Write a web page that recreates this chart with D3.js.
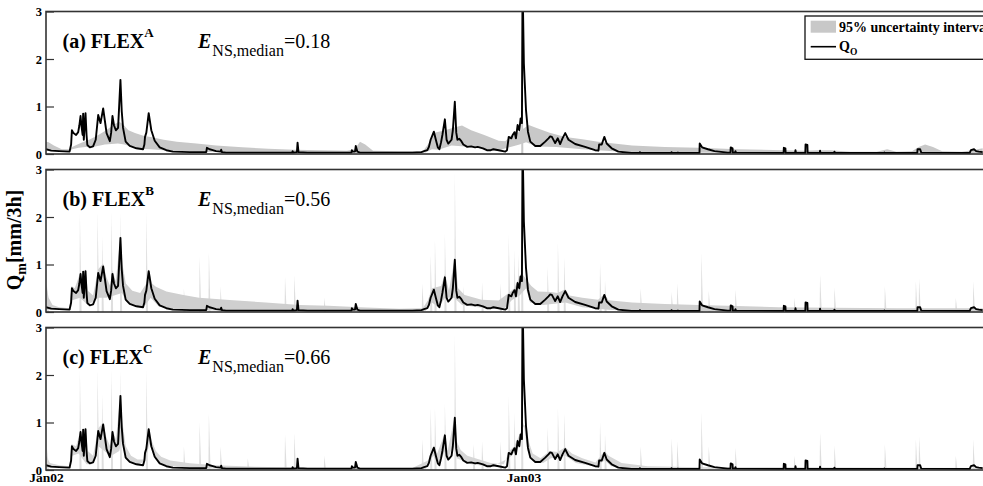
<!DOCTYPE html>
<html>
<head>
<meta charset="utf-8">
<script src="https://cdn.jsdelivr.net/npm/d3@7"></script>
<style>
  body { margin: 0; background: #fff; }
  svg { display: block; font-family: "Liberation Serif", "Times New Roman", serif; }
</style>
</head>
<body>
<svg id="chart" width="983" height="486"></svg>
<script>
// -----------------------------------------------------------------------
// Data — day offsets from 1 Jan 2002, discharge in mm/3h
// -----------------------------------------------------------------------

const panelLetters = ["a", "b", "c"];
const modelSups = ["A", "B", "C"];
const nseMedian = ["0.18", "0.56", "0.66"];
const yTicks = [0, 1, 2, 3];
const xTickDates = ["2002-01-01", "2003-01-01", "2004-01-01"];
const xTickLabels = ["Jan02", "Jan03", "Jan04"];

// observed discharge Q_O (same in all three panels)
const obsFlow = [
  [0,0.1],[4,0.07],[10,0.06],[18,0.05],[19.2,0.2],[19.8,0.5],[21,0.44],[23,0.4],[24.6,0.46],
  [25.5,0.6],[26.4,0.8],[27.3,0.55],[28,0.4],[28.4,0.85],[28.9,0.3],[29.6,0.6],[30.2,0.86],
  [31,0.4],[31.6,0.19],[33.5,0.14],[36,0.16],[38,0.3],[39.9,0.82],[41.7,0.65],[43.7,0.96],
  [45,0.7],[46.3,0.44],[48.8,0.27],[49.8,0.45],[50.8,0.8],[52,0.6],[53.4,0.5],[55.1,0.55],
  [56.9,1.56],[57.9,0.9],[58.9,0.55],[60.9,0.26],[64,0.17],[69.1,0.12],[74.2,0.1],[75.2,0.2],
  [75.7,0.36],[76.7,0.45],[78.5,0.86],[80.5,0.5],[83.1,0.28],[86.9,0.14],[92,0.08],[97,0.05],
  [110,0.04],[122.5,0.04],[123,0.13],[125,0.1],[127.5,0.08],[130,0.06],[133.5,0.05],[133.9,0.09],
  [134.5,0.04],[137.7,0.03],[175,0.03],[188.2,0.03],[188.5,0.06],[189,0.03],[191.8,0.04],
  [192.3,0.24],[193,0.04],[200,0.03],[233.5,0.03],[233.8,0.08],[234.5,0.05],[236.2,0.05],
  [236.8,0.17],[238,0.05],[240,0.03],[280,0.03],[287,0.04],[289,0.06],[291.5,0.08],[292.7,0.15],
  [294,0.3],[296.5,0.47],[298,0.3],[299.5,0.14],[300.7,0.1],[302,0.25],[303,0.4],[304.9,0.73],
  [306.2,0.3],[307.5,0.22],[308.5,0.25],[310,0.3],[311,0.5],[312.5,1.1],[313.6,0.45],[314.5,0.3],
  [316,0.32],[317.5,0.27],[319,0.2],[322,0.15],[325,0.16],[328,0.14],[330,0.15],[334,0.12],
  [337,0.08],[340,0.08],[342,0.1],[346,0.08],[351.1,0.05],[352.4,0.08],[353.7,0.36],[355.7,0.33],
  [356.7,0.4],[358.2,0.46],[359.2,0.33],[360.5,0.61],[361.8,0.5],[362.8,0.75],[363.8,0.65],
  [364.3,3.6],[365.3,1.9],[366.9,0.93],[368.4,0.47],[370.2,0.26],[374,0.17],[377.8,0.17],
  [381.6,0.26],[384.1,0.33],[385.4,0.37],[386.7,0.36],[389.2,0.23],[391.2,0.33],[393,0.21],
  [394.8,0.33],[396.9,0.44],[399.4,0.3],[404.5,0.21],[412.1,0.15],[419.7,0.08],[422.3,0.07],
  [422.8,0.2],[424.8,0.2],[426.8,0.36],[428.6,0.22],[432.4,0.12],[437.5,0.05],[447.6,0.02],
  [453.8,0.02],[454,0.04],[454.3,0.02],[478,0.02],[478.2,0.04],[478.5,0.02],[482.7,0.02],
  [483,0.03],[483.3,0.02],[499.5,0.02],[499.7,0.22],[501.5,0.14],[506,0.1],[511,0.06],[521,0.03],
  [523.2,0.03],[523.4,0.14],[524.8,0.12],[525,0.03],[526.7,0.03],[527,0.06],[527.4,0.03],
  [563.8,0.02],[564,0.13],[565.2,0.12],[565.4,0.02],[572.6,0.02],[572.9,0.08],[573.3,0.02],
  [580.4,0.02],[580.6,0.2],[582,0.19],[582.2,0.02],[591.4,0.02],[591.7,0.07],[592,0.02],
  [602.4,0.02],[602.7,0.05],[603,0.02],[640.5,0.02],[640.8,0.03],[641.1,0.02],[666,0.02],
  [666.2,0.1],[668.2,0.1],[669,0.03],[706,0.02],[707,0.08],[709.4,0.1],[711,0.06],[713,0.05],[716,0.04]
];

// 95% uncertainty interval, FLEX-A
const bandAUpper = [
  [0,0.26],[2,0.25],[6,0.18],[12,0.1],[18,0.1],[20,0.15],[24,0.2],[28,0.25],[33,0.3],[40,0.4],
  [46,0.5],[52,0.62],[56,0.68],[59,0.62],[63,0.5],[68,0.44],[75,0.38],[80,0.36],[90,0.3],
  [100,0.26],[115,0.22],[130,0.18],[150,0.14],[170,0.11],[190,0.09],[210,0.08],[230,0.07],
  [236,0.1],[240,0.26],[244,0.2],[250,0.07],[270,0.06],[288,0.06],[292,0.2],[297,0.45],
  [305,0.5],[312,0.56],[318,0.6],[325,0.5],[335,0.4],[346,0.28],[351,0.27],[356,0.4],
  [361,0.46],[369,0.61],[375,0.55],[385,0.45],[397,0.36],[410,0.31],[422,0.26],[448,0.18],
  [473,0.15],[499,0.13],[529,0.1],[564,0.08],[580,0.07],[590,0.08],[600,0.08],[615,0.05],
  [635,0.05],[643,0.1],[650,0.05],[662,0.06],[667,0.15],[672,0.2],[678,0.15],[685,0.06],
  [700,0.05],[708,0.08],[716,0.12]
];
const bandALower = [
  [0,0.08],[10,0.05],[18,0.05],[20,0.1],[25,0.13],[30,0.15],[35,0.14],[45,0.2],[55,0.22],
  [60,0.2],[70,0.11],[80,0.1],[100,0.06],[130,0.04],[200,0.03],[290,0.03],[295,0.1],[300,0.09],
  [310,0.18],[320,0.16],[335,0.11],[345,0.07],[355,0.15],[362,0.2],[367,0.25],[375,0.16],
  [390,0.15],[410,0.1],[440,0.05],[480,0.03],[550,0.02],[716,0.02]
];

// 95% uncertainty interval, FLEX-B
const bandBUpper = [
  [0,0.6],[2,0.3],[5,0.15],[10,0.1],[18,0.08],[19.5,0.55],[22,0.5],[26.4,0.85],[28,0.75],
  [30.2,0.9],[32,0.45],[36,0.35],[39.9,0.9],[43.7,1.02],[46,0.75],[49,0.55],[50.8,0.88],
  [53.4,0.65],[56.9,1.62],[58.5,1.0],[61,0.6],[66,0.45],[72,0.4],[76.7,0.6],[78.5,0.9],[81,0.6],
  [84,0.53],[92,0.43],[105,0.36],[117,0.3],[143,0.25],[168,0.2],[194,0.15],[216,0.13],[240,0.1],
  [270,0.07],[288,0.08],[292,0.25],[295,0.5],[302,0.55],[305,0.8],[308,0.45],[312.5,1.15],
  [315,0.5],[320,0.36],[333,0.26],[346,0.24],[353.7,0.4],[358,0.5],[362.8,0.8],[364,0.8],
  [367.6,0.67],[371,0.55],[376,0.43],[386,0.42],[391,0.4],[397,0.48],[400,0.35],[410,0.3],
  [422,0.26],[427,0.38],[430,0.25],[448,0.2],[473,0.17],[499,0.15],[521,0.13],[560,0.1],
  [600,0.09],[650,0.08],[700,0.08],[716,0.08]
];
const bandBLower = [
  [0,0.05],[19,0.04],[20,0.25],[26,0.3],[32,0.15],[40,0.3],[46,0.3],[52,0.35],[58,0.4],
  [62,0.2],[70,0.1],[76,0.15],[80,0.3],[86,0.12],[100,0.05],[130,0.03],[290,0.02],[295,0.2],
  [300,0.1],[305,0.3],[312,0.3],[318,0.15],[330,0.1],[350,0.06],[356,0.25],[362,0.35],
  [367,0.5],[370,0.2],[380,0.15],[397,0.2],[410,0.1],[430,0.05],[450,0.02],[716,0.01]
];

// 95% uncertainty interval, FLEX-C
const bandCUpper = [
  [0,0.3],[3,0.15],[10,0.1],[18,0.08],[19.5,0.55],[23,0.5],[26.4,0.85],[28,0.7],[30.2,0.9],
  [32,0.4],[36,0.3],[39.9,0.88],[43.7,1.0],[46,0.7],[49,0.5],[50.8,0.85],[53.5,0.65],[56.9,1.6],
  [58.5,1.0],[61,0.5],[65,0.3],[70,0.22],[75,0.22],[78.5,0.9],[81,0.6],[84,0.4],[88,0.28],
  [95,0.2],[110,0.14],[130,0.1],[160,0.07],[200,0.05],[280,0.04],[292,0.2],[296.5,0.52],
  [299,0.35],[304.9,0.78],[307,0.4],[312.5,1.15],[314,0.6],[317,0.42],[322,0.3],[330,0.23],
  [340,0.15],[350,0.12],[354,0.4],[358,0.5],[362.8,0.8],[367,1.0],[369,0.6],[372,0.35],
  [378,0.25],[385,0.4],[391,0.38],[397,0.48],[402,0.35],[410,0.25],[420,0.16],[427,0.4],
  [430,0.3],[440,0.15],[460,0.08],[500,0.06],[716,0.04]
];
const bandCLower = [
  [0,0.05],[19,0.03],[20,0.3],[25,0.35],[31,0.12],[35,0.12],[40,0.5],[47,0.35],[50,0.3],
  [56,0.4],[58,0.6],[61,0.22],[70,0.1],[76,0.2],[79,0.55],[84,0.22],[90,0.1],[110,0.03],
  [290,0.02],[296,0.3],[300,0.1],[305,0.4],[307,0.2],[312,0.6],[314,0.25],[325,0.12],
  [340,0.07],[354,0.25],[362,0.5],[365,1.0],[368,0.4],[372,0.2],[380,0.15],[386,0.25],
  [397,0.3],[405,0.15],[420,0.07],[427,0.2],[432,0.08],[440,0.03],[716,0.01]
];

// narrow peaks of the upper bound: [day, mm/3h]
const spikesA = [[363.6,3.5]];
const spikesB = [
  [1,0.55],[25.9,2.08],[39.4,2.1],[42.9,1.6],[50,2.1],[56.9,2.1],[76.7,2.1],[105.4,0.5],
  [117.4,1.16],[124.5,1.27],[133.4,0.53],[154.2,0.25],[182.7,0.74],[189.8,0.77],[212.7,0.3],
  [287.6,0.6],[294,1.2],[297.3,1.52],[304.9,1.66],[312.5,2.93],[319,0.55],[333.3,0.62],
  [347.3,0.6],[353.7,1.62],[358,1.3],[361,1.2],[363.6,3.5],[383.4,0.95],[391.3,1.45],
  [396.1,1.16],[423.5,1.02],[427.3,0.67],[454.5,0.5],[478.2,0.42],[482.5,0.6],[501,1.24],
  [506.6,0.45],[527,0.47],[572,0.3],[591.7,0.79],[602.7,0.52],[641.2,0.55],[664.9,0.65],
  [667.4,0.7],[695.4,0.3],[708.8,0.65]
];
const spikesC = [
  [1,0.45],[25.9,2.1],[39.4,2.1],[42.9,1.6],[50,2.1],[56.9,2.1],[76.7,2.1],[105.4,0.5],
  [117.4,1.0],[124.5,1.2],[133.4,0.5],[154.2,0.25],[182.7,0.75],[189.8,0.78],[212.7,0.3],
  [287.6,0.65],[294,1.3],[297.3,1.3],[304.9,1.4],[312.5,2.85],[326.8,0.55],[333.3,0.6],
  [347.3,0.6],[353.7,1.55],[358,1.2],[363.6,3.5],[383.4,0.9],[391.3,1.3],[396.1,1.2],
  [423.5,1.0],[427.3,0.75],[454.5,0.5],[478.2,0.67],[482.5,0.6],[501,1.21],[506.6,0.5],
  [527,0.47],[572,0.3],[591.7,0.79],[602.7,0.52],[641.2,0.55],[664.9,0.65],[667.4,0.7],
  [695.4,0.3],[708.8,0.65]
];

const bandsUpper = [bandAUpper, bandBUpper, bandCUpper];
const bandsLower = [bandALower, bandBLower, bandCLower];
const bandsSpikes = [spikesA, spikesB, spikesC];

// -----------------------------------------------------------------------
// Layout
// -----------------------------------------------------------------------

const svg = d3.select("#chart");
const plotLeft = 46, plotRight = 1001;
const panelTops = [11.5, 169.5, 327.5];
const panelH = 142.5;
const bandFills = ["#c8c8c8", "#cfcfcf", "#d6d6d6"];
const spikeFill = "#dedede";
const serif = "Liberation Serif, Times New Roman, serif";

const t0 = Date.UTC(2002, 0, 1);
const dayToDate = d => new Date(t0 + d * 864e5);

const x = d3.scaleUtc()
  .domain([new Date(xTickDates[0]), new Date(xTickDates[2])])
  .range([plotLeft, plotRight]);

panelLetters.forEach((letter, i) => {
  const top = panelTops[i];
  const y = d3.scaleLinear().domain([0, 3]).range([top + panelH, top]);
  const g = svg.append("g").attr("class", "panel");

  const clipId = `clip-${letter}`;
  svg.append("clipPath").attr("id", clipId)
    .append("rect")
    .attr("x", plotLeft).attr("y", top)
    .attr("width", plotRight - plotLeft).attr("height", panelH);

  const line = d3.line().x(d => x(dayToDate(d[0]))).y(d => y(d[1]));
  const data = g.append("g").attr("clip-path", `url(#${clipId})`);

  // spikes of the interval (thin, light)
  bandsSpikes[i].forEach(([d, h]) => {
    data.append("path")
      .attr("d", line([[d - 0.35, 0], [d, h], [d + 1.3, 0]]) + "Z")
      .attr("fill", i === 0 ? bandFills[0] : spikeFill);
  });

  // 95% uncertainty band as closed polygon (upper forward, lower back)
  const poly = bandsUpper[i].concat(bandsLower[i].slice().reverse());
  data.append("path")
    .attr("d", line(poly) + "Z")
    .attr("fill", bandFills[i]);

  // observed flow
  data.append("path")
    .datum(obsFlow)
    .attr("d", line)
    .attr("fill", "none")
    .attr("stroke", "#000")
    .attr("stroke-width", 1.9)
    .attr("stroke-linejoin", "round");

  // frame
  g.append("rect")
    .attr("x", plotLeft).attr("y", top)
    .attr("width", plotRight - plotLeft).attr("height", panelH)
    .attr("fill", "none").attr("stroke", "#333").attr("stroke-width", 1.6);

  // y axis, ticks pointing inward
  const yAxis = g.append("g")
    .attr("transform", `translate(${plotLeft},0)`)
    .call(d3.axisLeft(y).tickValues(yTicks).tickSize(-8).tickPadding(4).tickFormat(d3.format("d")));
  yAxis.select(".domain").remove();
  yAxis.selectAll("line").attr("stroke", "#333").attr("stroke-width", 1.2);
  yAxis.selectAll("text")
    .attr("font-family", serif)
    .attr("font-size", 12.5).attr("font-weight", "bold").attr("fill", "#000");

  // panel title
  const title = g.append("text")
    .attr("x", 62.5).attr("y", top + 36.2)
    .attr("font-size", 20).attr("font-weight", "bold");
  title.append("tspan").text(`(${letter}) FLEX`);
  title.append("tspan").attr("font-size", 13).attr("dy", -10.5).text(modelSups[i]);

  // Nash-Sutcliffe efficiency
  const nse = g.append("text")
    .attr("x", 198).attr("y", top + 36.2)
    .attr("font-size", 20);
  nse.append("tspan").attr("font-weight", "bold").attr("font-style", "italic").text("E");
  nse.append("tspan").attr("font-size", 16).attr("dy", 8).attr("dx", 1).text("NS,median");
  nse.append("tspan").attr("dy", -8).text(`=${nseMedian[i]}`);
});

// x axis labels under the last panel
const xAxis = svg.append("g")
  .attr("transform", `translate(0,${panelTops[2] + panelH})`)
  .call(d3.axisBottom(x)
    .tickValues(xTickDates.map(d => new Date(d)))
    .tickSize(0).tickPadding(2.5)
    .tickFormat((d, k) => xTickLabels[k]));
xAxis.select(".domain").remove();
xAxis.selectAll("text")
  .attr("font-family", serif)
  .attr("font-size", 13.5).attr("font-weight", "bold").attr("fill", "#000");

// y axis title
const yTitle = svg.append("text")
  .attr("transform", "translate(21,240) rotate(-90)")
  .attr("text-anchor", "middle")
  .attr("font-size", 20).attr("font-weight", "bold");
yTitle.append("tspan").text("Q");
yTitle.append("tspan").attr("font-size", 14).attr("dy", 5).text("m");
yTitle.append("tspan").attr("dy", -5).text("[mm/3h]");

// legend (top right of panel a)
const legend = svg.append("g").attr("transform", "translate(805,16)");
legend.append("rect")
  .attr("width", 200).attr("height", 43.3)
  .attr("fill", "#fff").attr("stroke", "#111").attr("stroke-width", 1.3);
legend.append("rect")
  .attr("x", 5.7).attr("y", 4.7).attr("width", 25.3).attr("height", 12)
  .attr("fill", bandFills[0]);
legend.append("text")
  .attr("x", 34).attr("y", 15.5)
  .attr("font-size", 14).attr("font-weight", "bold")
  .text("95% uncertainty interval");
legend.append("line")
  .attr("x1", 5.7).attr("x2", 31).attr("y1", 30.7).attr("y2", 30.7)
  .attr("stroke", "#000").attr("stroke-width", 1.6);
const qLab = legend.append("text")
  .attr("x", 34).attr("y", 34.5)
  .attr("font-size", 14).attr("font-weight", "bold");
qLab.append("tspan").text("Q");
qLab.append("tspan").attr("font-size", 9.5).attr("dy", 4).text("O");
</script>
</body>
</html>
